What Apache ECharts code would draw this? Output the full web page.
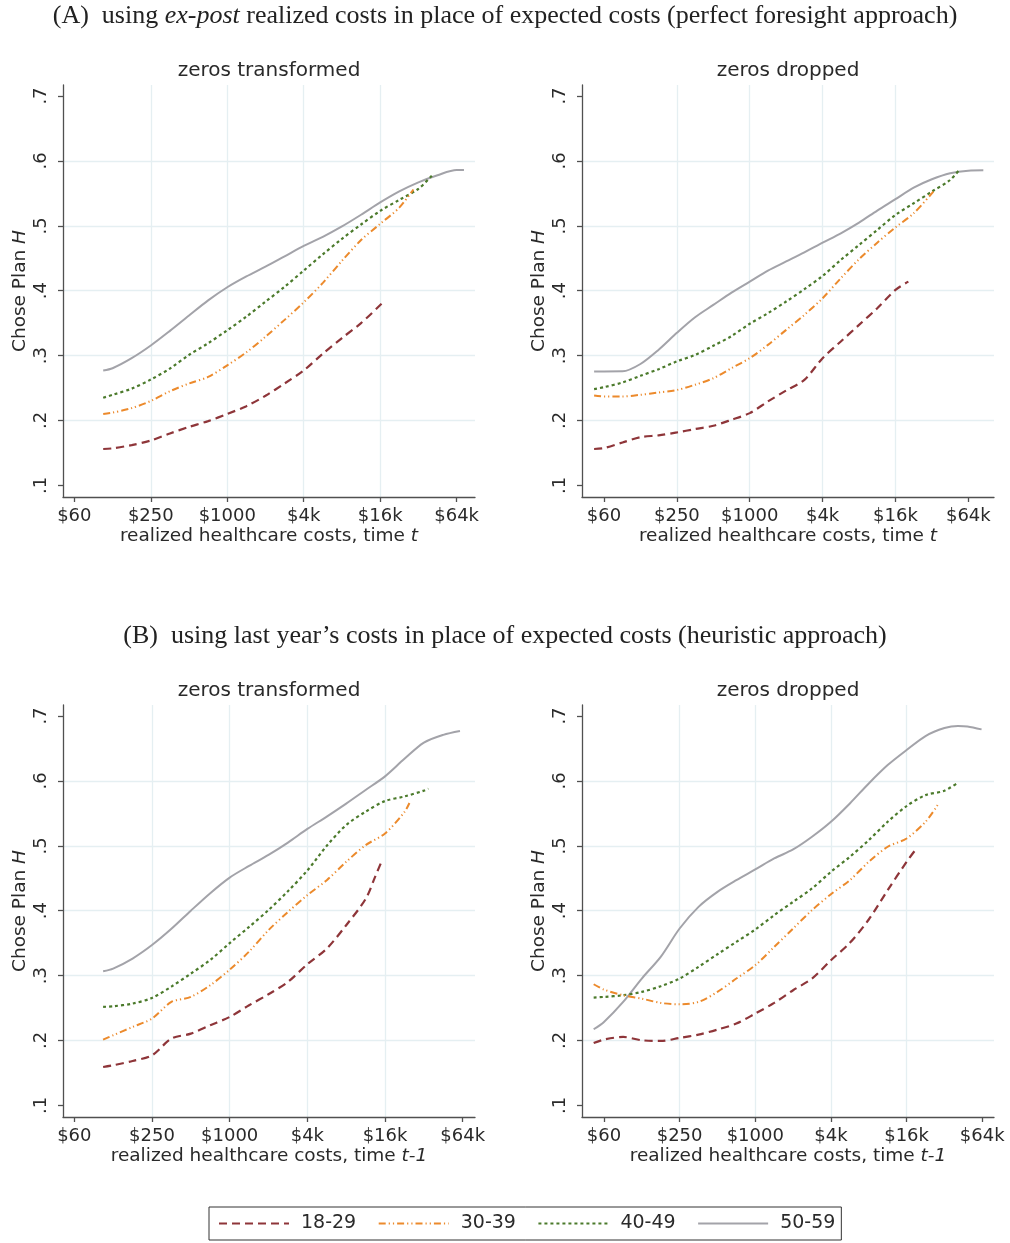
<!DOCTYPE html>
<html><head><meta charset="utf-8">
<script src="https://cdn.jsdelivr.net/npm/echarts@6/dist/echarts.min.js"></script>
<style>html,body{margin:0;padding:0;background:#fff}#c{width:1010px;height:1243px}</style>
</head><body><div id="c"></div>
<script>
// ---------- labels ----------
const groups = ['18-29', '30-39', '40-49', '50-59'];
const xTickValues = [64, 256, 1024, 4096, 16384, 65536];
const xTickLabels = ['$60', '$250', '$1000', '$4k', '$16k', '$64k'];
const yTickValues = [0.1, 0.2, 0.3, 0.4, 0.5, 0.6, 0.7];
const yTickLabels = ['.1', '.2', '.3', '.4', '.5', '.6', '.7'];
const panelTitles = ['zeros transformed', 'zeros dropped', 'zeros transformed', 'zeros dropped'];
const xTitles = ['realized healthcare costs, time {i|t}', 'realized healthcare costs, time {i|t}',
                 'realized healthcare costs, time {i|t-1}', 'realized healthcare costs, time {i|t-1}'];
const yTitle = 'Chose Plan {i|H}';
const sectionTitles = ['(A)  using {i|ex-post} realized costs in place of expected costs (perfect foresight approach)',
                       '(B)  using last year\u2019s costs in place of expected costs (heuristic approach)'];
// axis ranges (dollars, log scale base 4) and share range
const xMins = [52.1, 42.1, 52.3, 42.8];
const xMaxs = [91440, 106800, 81600, 81270];
const yMin = 0.082, yMax = 0.717;

// ---------- data: [cost in $, share choosing plan H] ----------
// Panel A, zeros transformed
const a1_1829 = [[108,.156],[128,.157],[181,.162],[256,.169],[362,.180],[512,.190],[724,.199],[1024,.210],[1448,.222],[2048,.238],[2896,.257],[4096,.277],[5793,.303],[8192,.327],[11585,.350],[16840,.380]];
const a1_3039 = [[108,.210],[128,.212],[181,.219],[256,.230],[362,.245],[512,.257],[724,.267],[1024,.285],[1448,.305],[2048,.329],[2896,.355],[4096,.382],[5793,.412],[8192,.446],[11585,.478],[16384,.503],[23170,.528],[29920,.556]];
const a1_4049 = [[108,.235],[128,.2395],[181,.249],[256,.263],[362,.280],[512,.301],[724,.319],[1024,.339],[1448,.360],[2048,.383],[2896,.406],[4096,.431],[5793,.456],[8192,.480],[11585,.502],[16384,.523],[23170,.540],[32768,.557],[42190,.578]];
const a1_5059 = [[108,.277],[128,.2805],[181,.296],[256,.3155],[362,.338],[512,.3617],[724,.385],[1024,.4053],[1448,.422],[2048,.437],[2896,.453],[4096,.469],[5793,.483],[8192,.499],[11585,.517],[16384,.536],[23170,.553],[32768,.567],[46341,.578],[65536,.586],[74850,.586]];
// Panel A, zeros dropped
const a2_1829 = [[53,.156],[64,.1574],[91,.166],[128,.1743],[181,.177],[256,.1815],[362,.1867],[512,.1918],[724,.201],[1024,.2113],[1448,.2293],[2048,.2462],[2896,.2626],[4096,.296],[5793,.3217],[8192,.3473],[11585,.373],[16384,.4012],[20940,.414]];
const a2_3039 = [[53,.2385],[64,.237],[91,.237],[128,.2395],[181,.243],[256,.247],[362,.255],[512,.265],[724,.2806],[1024,.296],[1448,.3165],[2048,.3396],[2896,.3627],[4096,.3884],[5793,.4192],[8192,.4485],[11585,.474],[16384,.4975],[23170,.5193],[33700,.5527]];
const a2_4049 = [[53,.2483],[64,.2513],[91,.2585],[128,.2688],[181,.279],[256,.291],[362,.301],[512,.315],[724,.330],[1024,.349],[1448,.3653],[2048,.3833],[2896,.4023],[4096,.4228],[5793,.4474],[8192,.4705],[11585,.4936],[16384,.5167],[23170,.5347],[32768,.5527],[46341,.5706],[55940,.5876]];
const a2_5059 = [[53,.2755],[64,.2755],[91,.2757],[128,.287],[181,.309],[256,.335],[362,.359],[512,.378],[724,.397],[1024,.414],[1448,.431],[2048,.445],[2896,.459],[4096,.474],[5793,.4885],[8192,.505],[11585,.5234],[16384,.541],[23170,.5588],[32768,.5717],[46341,.581],[65536,.585],[87170,.5855]];
// Panel B, zeros transformed
const b1_1829 = [[107,.1591],[128,.1617],[181,.1684],[256,.1771],[362,.2028],[512,.2105],[724,.2234],[1024,.2362],[1448,.2542],[2048,.2712],[2896,.2902],[4096,.3175],[5793,.3416],[8192,.3776],[11585,.418],[13720,.452],[15470,.4769]];
const b1_3039 = [[107,.2013],[128,.208],[181,.2208],[256,.2337],[362,.2594],[512,.2671],[724,.2851],[1024,.309],[1448,.337],[2048,.370],[2896,.398],[4096,.424],[5793,.447],[8192,.4753],[11585,.501],[16384,.519],[23170,.552],[25310,.566]];
const b1_4049 = [[107,.2517],[128,.2527],[181,.2568],[256,.2655],[362,.283],[512,.303],[724,.324],[1024,.350],[1448,.375],[2048,.401],[2896,.430],[4096,.462],[5793,.500],[8192,.532],[11585,.5525],[16384,.569],[23170,.576],[32768,.585],[35520,.588]];
const b1_5059 = [[107,.3067],[128,.3108],[181,.3262],[256,.347],[362,.372],[512,.400],[724,.427],[1024,.451],[1448,.469],[2048,.486],[2896,.505],[4096,.526],[5793,.545],[8192,.565],[11585,.586],[16384,.607],[23170,.634],[32768,.659],[46341,.671],[62420,.677]];
// Panel B, zeros dropped
const b2_1829 = [[53,.1961],[64,.2013],[91,.2054],[128,.2003],[181,.1992],[256,.2039],[362,.209],[512,.2167],[724,.226],[1024,.2414],[1448,.2578],[2048,.2774],[2896,.2954],[4096,.3236],[5793,.3504],[8192,.3864],[11585,.4316],[16384,.4753],[19660,.4959]];
const b2_3039 = [[53,.2866],[64,.2784],[91,.2697],[128,.2645],[181,.2578],[256,.2558],[362,.2594],[512,.2748],[724,.2954],[1024,.3159],[1448,.3442],[2048,.3725],[2896,.4008],[4096,.4254],[5793,.447],[8192,.4753],[11585,.4985],[16384,.5113],[23170,.537],[28930,.5627]];
const b2_4049 = [[53,.2661],[64,.2671],[91,.2697],[128,.2748],[181,.2836],[256,.2954],[362,.3134],[512,.3329],[724,.3519],[1024,.371],[1448,.3931],[2048,.4136],[2896,.4342],[4096,.4599],[5793,.483],[8192,.5087],[11585,.537],[16384,.5612],[23170,.5781],[32768,.5848],[40960,.5961]];
const b2_5059 = [[53,.2172],[64,.2285],[91,.2594],[128,.2954],[181,.3288],[256,.3725],[362,.4059],[512,.429],[724,.447],[1024,.4635],[1448,.4805],[2048,.4943],[2896,.5139],[4096,.537],[5793,.5653],[8192,.5961],[11585,.6244],[16384,.6476],[23170,.6692],[32768,.6815],[42000,.6848],[50000,.684],[64710,.6794]];

const panelData = [
  [a1_1829, a1_3039, a1_4049, a1_5059],
  [a2_1829, a2_3039, a2_4049, a2_5059],
  [b1_1829, b1_3039, b1_4049, b1_5059],
  [b2_1829, b2_3039, b2_4049, b2_5059]
];

// ---------- styles ----------
const lineStyles = [
  {color: '#8e3539', width: 2.2, type: [8, 5]},
  {color: '#ec8a2c', width: 2, type: [7, 3, 1.2, 3, 1.2, 3]},
  {color: '#4b7a2b', width: 2.2, type: [3, 3]},
  {color: '#a3a3a9', width: 2, type: 'solid'}
];
const F = 'DejaVu Sans';
const TXT = '#2a2a2a';
const AX = '#505050';
const GRIDC = '#e5eff2';
const gridPos = [{left: 63, top: 85}, {left: 582, top: 85}, {left: 63, top: 705}, {left: 582, top: 705}];
const PW = 412, PH = 412;

function xLabel(v) {
  for (let j = 0; j < xTickValues.length; j++) {
    if (Math.abs(Math.log(v / xTickValues[j])) < 0.02) return xTickLabels[j];
  }
  return '';
}
function yLabel(v) {
  for (let j = 0; j < yTickValues.length; j++) {
    if (Math.abs(v - yTickValues[j]) < 1e-6) return yTickLabels[j];
  }
  return '';
}

const grids = gridPos.map(p => ({left: p.left, top: p.top, width: PW, height: PH}));
const xAxes = gridPos.map((p, i) => ({
  type: 'log', logBase: 4, gridIndex: i, min: xMins[i], max: xMaxs[i],
  axisLine: {show: true, lineStyle: {color: AX, width: 1.3}},
  axisTick: {show: true, length: 5, lineStyle: {color: AX, width: 1.3}, customValues: xTickValues},
  axisLabel: {customValues: xTickValues, formatter: xLabel, fontFamily: F, fontSize: 18, color: TXT, margin: 10},
  splitLine: {show: true, showMinLine: false, showMaxLine: false, lineStyle: {color: GRIDC, width: 1.3}},
  name: xTitles[i], nameLocation: 'middle', nameGap: 30,
  nameTextStyle: {fontFamily: F, fontSize: 18.5, color: TXT, rich: {i: {fontFamily: F, fontSize: 18.5, color: TXT, fontStyle: 'italic'}}}
}));
const yAxes = gridPos.map((p, i) => ({
  type: 'value', gridIndex: i, min: yMin, max: yMax,
  axisLine: {show: true, lineStyle: {color: AX, width: 1.3}},
  axisTick: {show: true, length: 5, lineStyle: {color: AX, width: 1.3}, customValues: yTickValues},
  axisLabel: {customValues: yTickValues, formatter: yLabel, rotate: 90, fontFamily: F, fontSize: 18, color: TXT, margin: 13},
  splitLine: {show: true, showMinLine: false, showMaxLine: false, lineStyle: {color: GRIDC, width: 1.3}},
  name: yTitle, nameLocation: 'middle', nameGap: 33,
  nameTextStyle: {fontFamily: F, fontSize: 18.5, color: TXT, rich: {i: {fontFamily: F, fontSize: 18.5, color: TXT, fontStyle: 'italic'}}}
}));

const series = [];
panelData.forEach((arrs, i) => {
  arrs.forEach((d, k) => {
    series.push({
      name: groups[k], type: 'line', xAxisIndex: i, yAxisIndex: i,
      data: d, showSymbol: false, symbol: 'none', smooth: 0.3,
      lineStyle: lineStyles[k], itemStyle: {color: lineStyles[k].color},
      z: 10 - k, silent: true
    });
  });
});

const graphics = [];
sectionTitles.forEach((t, s) => {
  graphics.push({
    type: 'text', x: 505, y: s === 0 ? 16 : 636,
    style: {text: t, fontFamily: 'Liberation Serif', fontSize: 26, fill: '#222', align: 'center', verticalAlign: 'middle',
      rich: {i: {fontFamily: 'Liberation Serif', fontSize: 26, fontStyle: 'italic', fill: '#222'}}}
  });
});
panelTitles.forEach((t, i) => {
  graphics.push({
    type: 'text', x: gridPos[i].left + PW / 2, y: gridPos[i].top - 14,
    style: {text: t, fontFamily: F, fontSize: 20, fill: TXT, align: 'center', verticalAlign: 'middle'}
  });
});

const chart = echarts.init(document.getElementById('c'));
chart.setOption({
  animation: false,
  backgroundColor: '#fff',
  grid: grids, xAxis: xAxes, yAxis: yAxes, series: series,
  graphic: graphics,
  legend: {
    data: groups, left: 209, top: 1207, orient: 'horizontal',
    itemWidth: 70, itemHeight: 14, itemGap: 21.5, padding: [7, 6, 7, 9],
    borderColor: '#333', borderWidth: 1, selectedMode: false,
    itemStyle: {opacity: 0},
    textStyle: {fontFamily: F, fontSize: 19, color: TXT, padding: [0, 0, 0, 7]}
  }
});
</script></body></html>
